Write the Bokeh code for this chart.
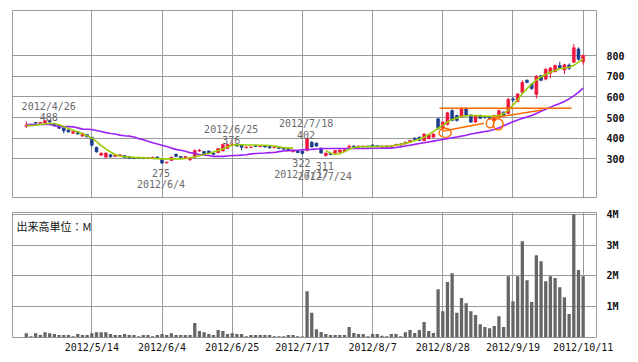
import math
import pandas as pd
from bokeh.plotting import figure
from bokeh.layouts import column
from bokeh.models import FixedTicker, Label, ColumnDataSource, Range1d
from bokeh.core.properties import value
from bokeh.embed import file_html
from bokeh.resources import INLINE

# ---------------- data ----------------
holidays = ["2012-04-30", "2012-05-03", "2012-05-04", "2012-07-16", "2012-09-17", "2012-10-08"]
trading_days = [d for d in pd.bdate_range("2012-04-19", "2012-10-11") if d.strftime("%Y-%m-%d") not in holidays]
dates = [f"{d.year}/{d.month}/{d.day}" for d in trading_days]

open_ = [458, 467, 476, 469, 474, 486, 470, 462, 450, 440, 424, 432, 410, 418, 404, 356, 318, 308, 320, 312,
         314, 316, 310, 306, 305, 306, 302, 302, 309, 296, 280, 292, 322, 312, 305, 296, 308, 338, 336, 338,
         328, 330, 338, 350, 368, 370, 368, 354, 355, 364, 359, 362, 360, 354, 356, 352, 348, 334, 340, 338,
         340, 380, 376, 353, 316, 326, 328, 332, 335, 356, 362, 356, 357, 362, 367, 364, 356, 357, 358, 364,
         366, 372, 380, 400, 405, 388, 398, 405, 494, 446, 466, 534, 510, 502, 542, 512, 478, 510, 504, 500,
         486, 508, 526, 520, 590, 577, 622, 680, 662, 612, 703, 686, 714, 722, 752, 730, 754, 768, 832, 770]
high = [482, 469, 477, 477, 486, 488, 472, 464, 452, 442, 434, 434, 426, 420, 406, 358, 330, 330, 322, 324,
        322, 318, 312, 308, 306, 307, 309, 310, 312, 298, 286, 310, 326, 314, 313, 306, 346, 348, 338, 340,
        330, 352, 372, 373, 376, 374, 370, 360, 360, 366, 364, 364, 362, 361, 358, 354, 350, 344, 342, 340,
        402, 386, 380, 354, 330, 328, 342, 345, 350, 370, 366, 365, 364, 364, 370, 367, 364, 365, 366, 373,
        376, 384, 392, 404, 408, 424, 420, 424, 498, 482, 528, 540, 514, 548, 550, 516, 512, 514, 508, 503,
        514, 538, 530, 595, 600, 618, 680, 685, 666, 705, 706, 738, 744, 756, 770, 760, 762, 856, 840, 805]
low = [450, 462, 467, 467, 472, 476, 457, 445, 424, 428, 422, 418, 408, 404, 356, 330, 314, 306, 306, 310,
       312, 304, 300, 300, 300, 299, 300, 300, 300, 275, 278, 290, 310, 304, 303, 290, 305, 334, 322, 326,
       318, 328, 336, 348, 364, 358, 342, 350, 352, 358, 357, 355, 350, 352, 347, 344, 341, 332, 328, 322,
       336, 355, 358, 326, 311, 318, 325, 330, 334, 350, 355, 354, 355, 356, 360, 357, 354, 352, 356, 362,
       364, 370, 378, 390, 386, 386, 395, 402, 440, 440, 462, 482, 480, 500, 506, 474, 474, 492, 494, 490,
       482, 505, 508, 518, 575, 574, 618, 666, 634, 592, 676, 680, 690, 718, 735, 710, 730, 764, 776, 756]
close = [463, 464, 473, 476, 484, 478, 460, 448, 436, 430, 432, 420, 424, 406, 366, 334, 328, 328, 310, 320,
         320, 306, 303, 302, 302, 301, 307, 308, 303, 280, 284, 308, 312, 306, 311, 302, 340, 342, 324, 328,
         322, 350, 370, 370, 370, 362, 356, 357, 358, 360, 362, 357, 353, 358, 350, 346, 343, 342, 330, 326,
         398, 358, 362, 328, 328, 321, 340, 343, 344, 360, 358, 362, 362, 358, 362, 359, 362, 363, 364, 370,
         372, 380, 390, 394, 390, 420, 415, 420, 448, 478, 523, 486, 486, 545, 510, 478, 508, 496, 500, 494,
         510, 533, 511, 588, 585, 614, 670, 670, 640, 700, 680, 734, 740, 752, 738, 755, 738, 838, 782, 800]
volume_m = [0.14, 0.04, 0.14, 0.08, 0.17, 0.14, 0.11, 0.08, 0.08, 0.08, 0.04, 0.11, 0.08, 0.08, 0.14, 0.17, 0.17, 0.17, 0.11, 0.08,
            0.08, 0.11, 0.08, 0.08, 0.04, 0.08, 0.08, 0.04, 0.08, 0.11, 0.08, 0.14, 0.08, 0.08, 0.08, 0.08, 0.47, 0.21, 0.17, 0.11,
            0.08, 0.24, 0.21, 0.11, 0.14, 0.11, 0.11, 0.04, 0.08, 0.08, 0.08, 0.08, 0.08, 0.04, 0.04, 0.04, 0.08, 0.08, 0.04, 0.03,
            1.50, 0.80, 0.27, 0.18, 0.11, 0.08, 0.08, 0.08, 0.08, 0.34, 0.15, 0.11, 0.11, 0.04, 0.11, 0.11, 0.06, 0.04, 0.11, 0.11,
            0.04, 0.17, 0.24, 0.15, 0.24, 0.50, 0.21, 0.15, 1.57, 0.85, 1.80, 2.09, 0.80, 1.28, 1.11, 0.85, 0.73, 0.43, 0.34, 0.30,
            0.37, 0.69, 0.34, 1.99, 1.18, 1.99, 3.13, 1.86, 1.15, 2.67, 2.48, 1.83, 1.99, 1.93, 1.63, 1.31, 0.76, 4.00, 2.19, 1.99]
nan = float("nan")
ma_short = [461, 461, 463, 467, 469, 471, 471, 465, 457, 447, 438, 430, 421, 412, 400, 383, 364, 348, 333, 320,
            314, 311, 309, 307, 306, 305, 304, 302, 301, 300, 300, 300, 300, 300, 302, 305, 310, 315, 321, 326,
            333, 340, 348, 358, 366, 368, 368, 367, 367, 367, 366, 366, 365, 362, 358, 354, 353, 352, nan, nan,
            nan, nan, nan, nan, 340, 328, 322, 325, 335, 346, 355, 358, 359, 359, 359, 360, 360, 361, 362, 366,
            370, 375, 381, 388, 396, 405, 418, 432, 448, 462, 478, 490, 498, 505, 509, 510, 510, 508, 507, 506,
            507, 510, 520, 535, 560, 585, 615, 640, 662, 682, 697, 708, 719, 728, 736, 740, 743, 752, 768, 784]
ma_long = [466, 466, 466, 466, 466, 466, 460, 457, 456, 456, 455, 450, 444, 443, 442, 437, 432, 427, 423, 420,
           415, 412, 410, 406, 398, 393, 385, 378, 372, 366, 360, 352, 346, 342, 337, 330, 326, 321, 318, 316,
           312, 312, 312, 314, 316, 316, 318, 320, 324, 326, 327, 328, 330, 331, 335, 338, 340, 341, 342, 344,
           345, 346, 348, 349, 350, 350, 350, 350, 350, 350, 350, 350, 350, 350, 351, 351, 351, 352, 352, 355,
           358, 362, 366, 370, 374, 378, 382, 386, 390, 394, 398, 402, 406, 410, 414, 420, 424, 428, 432, 436,
           442, 450, 460, 470, 480, 488, 496, 503, 510, 520, 530, 540, 550, 560, 568, 578, 590, 605, 622, 643]

tick_dates = ["2012/5/14", "2012/6/4", "2012/6/25", "2012/7/17", "2012/8/7", "2012/8/28", "2012/9/19", "2012/10/11"]
price_ticks = [300, 400, 500, 600, 700, 800]
volume_ticks = [1, 2, 3, 4]
volume_tick_labels = ["1M", "2M", "3M", "4M"]

# high / low annotations
ann_dates = ["2012/4/26", "2012/6/4", "2012/6/25", "2012/7/18", "2012/7/17", "2012/7/24"]
ann_values = [488, 275, 376, 402, 322, 311]
ann_kind = ["high", "low", "high", "high", "low", "low"]

# hand-drawn orange marks (x in trading-day positions, y in price)
resist_x0, resist_x1, resist_y = [88.3], [116.5], [545]
trend_x0 = [88.9, 99.6]
trend_y0 = [434, 498]
trend_x1 = [97.8, 110.2]
trend_y1 = [472, 537]
ring_x = [89.5, 99.1, 100.85]
ring_y = [426, 472, 467]
ring_w = [2.6, 1.6, 2.1]
ring_h = [44, 44, 54]

volume_label = "出来高単位：M"

# ---------------- build ----------------
n = len(dates)
assert all(len(a) == n for a in [open_, high, low, close, volume_m, ma_short, ma_long])
xs = list(range(n))
tick_idx = [dates.index(t) for t in tick_dates]

UP = "#f0143c"
DOWN = "#1a3a8c"
GRID = "#9a9a9a"
MONO = "DejaVu Sans Mono"

colors = [UP if c >= o else DOWN for o, c in zip(open_, close)]
src = ColumnDataSource(dict(x=xs, o=open_, h=high, l=low, c=close,
                            top=[max(o, c) for o, c in zip(open_, close)],
                            bottom=[min(o, c) for o, c in zip(open_, close)],
                            color=colors, vol=volume_m, g=ma_short, pu=ma_long))

xr = Range1d(-2.95, 121.85)


def style_axis(axis, bold=False, standoff=10):
    axis.axis_line_color = None
    axis.major_tick_line_color = None
    axis.minor_tick_line_color = None
    axis.major_tick_out = 0
    axis.major_tick_in = 0
    axis.minor_tick_out = 0
    axis.minor_tick_in = 0
    axis.major_label_standoff = standoff
    axis.major_label_text_font = MONO
    axis.major_label_text_font_size = "10px"
    axis.major_label_text_color = "#111111"
    if bold:
        axis.major_label_text_font_style = "bold"


p1 = figure(frame_width=584, frame_height=187, x_range=xr, y_range=Range1d(113, 1018),
            output_backend="svg", toolbar_location=None,
            x_axis_location=None, y_axis_location="right",
            min_border_left=12, min_border_right=34, min_border_top=10, min_border_bottom=7)
p1.outline_line_color = GRID
p1.background_fill_color = "white"
p1.border_fill_color = "white"
p1.xgrid.ticker = FixedTicker(ticks=tick_idx)
p1.yaxis.ticker = FixedTicker(ticks=price_ticks)
p1.ygrid.ticker = FixedTicker(ticks=price_ticks)
for g in (p1.xgrid, p1.ygrid):
    g.grid_line_color = GRID
    g.grid_line_alpha = 1.0
style_axis(p1.yaxis, bold=True, standoff=10)

p1.segment(x0="x", y0="l", x1="x", y1="h", color="color", line_width=1, source=src)
p1.vbar(x="x", width=0.62, top="top", bottom="bottom", fill_color="color", line_color="color",
        line_width=0.6, source=src)
p1.line(x="x", y="pu", color="#9a22f5", line_width=1.6, source=src)
p1.line(x="x", y="g", color="#99cc00", line_width=1.6, source=src)

ORANGE = "#ff6a00"
p1.segment(x0=resist_x0, y0=resist_y, x1=resist_x1, y1=resist_y, color=ORANGE, line_width=1.5)
p1.segment(x0=trend_x0, y0=trend_y0, x1=trend_x1, y1=trend_y1, color=ORANGE, line_width=1.5)
p1.ellipse(x=ring_x, y=ring_y, width=ring_w, height=ring_h, fill_color=None,
           line_color=ORANGE, line_width=1.4)

# annotations
ax, ay, at, aoff = [], [], [], []
for d, v, k in zip(ann_dates, ann_values, ann_kind):
    i = dates.index(d)
    ax += [i, i]; ay += [v, v]; at += [str(v), d]
    aoff += [-3, -14] if k == "high" else [9, 20]
p1.text(x=ax, y=ay, text=at, text_font=value(MONO), text_font_size="10px",
        text_color="#6a6a6a", text_align="center", text_baseline="alphabetic",
        x_offset=-1, y_offset=aoff)

p2 = figure(frame_width=584, frame_height=125, x_range=xr, y_range=Range1d(0, 4.06),
            output_backend="svg", toolbar_location=None, y_axis_location="right",
            min_border_left=12, min_border_right=34, min_border_top=8, min_border_bottom=16)
p2.outline_line_color = GRID
p2.xaxis.ticker = FixedTicker(ticks=tick_idx)
p2.xaxis.major_label_overrides = {i: t for i, t in zip(tick_idx, tick_dates)}
p2.yaxis.ticker = FixedTicker(ticks=volume_ticks)
p2.yaxis.major_label_overrides = {t: l for t, l in zip(volume_ticks, volume_tick_labels)}
for g in (p2.xgrid, p2.ygrid):
    g.grid_line_color = GRID
    g.grid_line_alpha = 1.0
style_axis(p2.xaxis, bold=False, standoff=4)
style_axis(p2.yaxis, bold=True, standoff=10)

p2.vbar(x="x", width=0.7, top="vol", fill_color="#666666", line_color=None, source=src)
p2.add_layout(Label(x=4, y=120, x_units="screen", y_units="screen", text=volume_label,
                    text_font="Noto Sans CJK JP", text_font_size="11px", text_color="#111111",
                    text_baseline="top"))

layout = column(p1, p2)
open("out.html", "w").write(file_html(layout, INLINE))
